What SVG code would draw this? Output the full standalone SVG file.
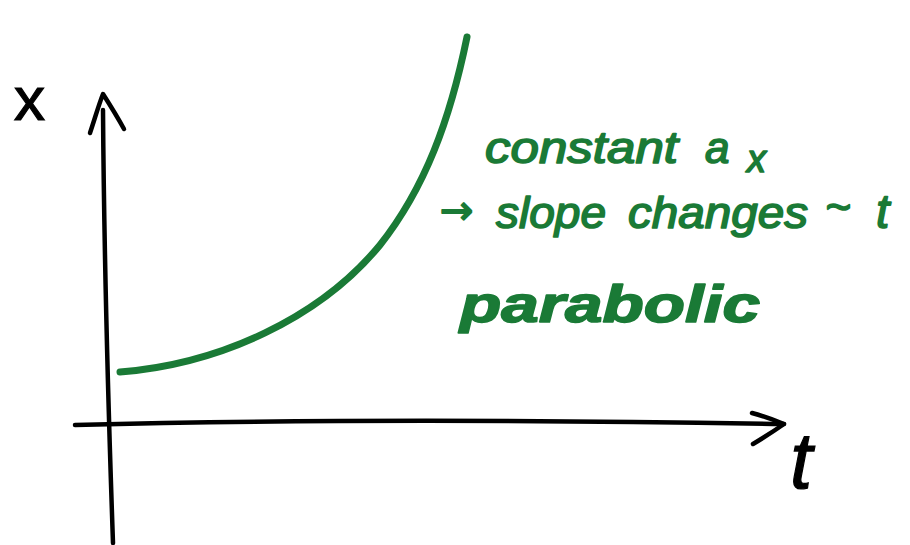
<svg xmlns="http://www.w3.org/2000/svg" width="910" height="545" viewBox="0 0 910 545">
<style>
.ink{fill:none;stroke:#000;stroke-width:4.5;stroke-linecap:round;stroke-linejoin:round}
.g{fill:#1a7a36;stroke:#1a7a36;stroke-width:1.6;stroke-linejoin:round;font-family:"Liberation Sans",Arial,sans-serif;font-style:italic}
.k{fill:#000;stroke:#000;stroke-width:1.2;font-family:"Liberation Sans",Arial,sans-serif}
</style>
<rect width="910" height="545" fill="#fff"/>
<g id="axes">
<path class="ink" d="M113,543 C108,400 104,250 103,110"/>
<path class="ink" d="M90,133 C95,118 99,104 103,94 C110,105 118,118 124,129"/>
<path class="ink" d="M75,425 C300,419 550,420 784,424"/>
<path class="ink" d="M752,413 C763,416 774,420 784,424 C774,431 763,438 753,444"/>
</g>
<g id="curve">
<path fill="none" stroke="#1a7a36" stroke-width="7" stroke-linecap="round" d="M120,372 C220,364 320,318 380,245 C425,188 450,120 467,37"/>
</g>
<g id="labels">
<text class="k" x="14" y="120" font-size="62">x</text>
<text class="k" x="790" y="488" font-size="80" style="font-style:italic">t</text>
</g>
<g id="annotation">
<text class="g" x="485" y="163" font-size="44" textLength="193" lengthAdjust="spacingAndGlyphs">constant</text>
<text class="g" x="705" y="163" font-size="44">a</text>
<text class="g" x="747" y="172" font-size="38">x</text>
<text class="g" x="440" y="224" font-size="40" style="font-style:normal;font-family:'DejaVu Sans',sans-serif">→</text>
<text class="g" x="496" y="228" font-size="44" textLength="110" lengthAdjust="spacingAndGlyphs">slope</text>
<text class="g" x="628" y="228" font-size="44" textLength="180" lengthAdjust="spacingAndGlyphs">changes</text>
<text class="g" x="825" y="222" font-size="44">~</text>
<text class="g" x="876" y="228" font-size="48">t</text>
<text class="g" x="460" y="322" font-size="52" font-weight="bold" textLength="300" lengthAdjust="spacingAndGlyphs">parabolic</text>
</g>
</svg>
